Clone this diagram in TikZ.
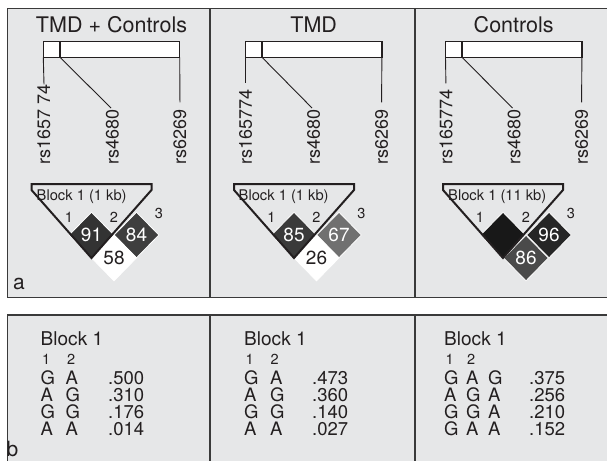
\documentclass[tikz,border=0pt]{standalone}
\usepackage{fontspec}
\setmainfont{TeX Gyre Heros}
\usetikzlibrary{shapes.geometric,calc}
\definecolor{bgc}{HTML}{E6E7E8}
\definecolor{ink}{HTML}{231F20}
\definecolor{bd}{HTML}{3A3A3A}
\definecolor{ldA}{HTML}{333333}
\definecolor{ldB}{HTML}{3E3E3E}
\definecolor{ldC}{HTML}{3A3A3A}
\definecolor{ldD}{HTML}{707070}
\definecolor{ldE}{HTML}{181818}
\definecolor{ldF}{HTML}{262626}
\definecolor{ldG}{HTML}{4A4A4A}
\begin{document}
\begin{tikzpicture}[x=1pt,y=-1pt,
  fs/.style={font=\fontsize{#1}{#1}\selectfont},
  ttl/.style={fs=21.5, text=ink, inner sep=0pt},
  snp/.style={fs=18, rotate=90, anchor=west, inner sep=0pt, text=ink},
  snpline/.style={draw=ink, line width=0.9pt},
  genebar/.style={draw=ink, line width=1.4pt, fill=white},
  ld/.style={diamond, fill=#1, draw=white, line width=0.8pt, minimum width=45pt, minimum height=46pt, inner sep=0pt, text=white, fs=19},
  blk/.style={draw=ink, line width=2pt, line join=miter},
  blklab/.style={fs=14.7, anchor=base west, inner sep=0pt, text=ink},
  mk/.style={fs=14.5, inner sep=0pt, text=ink},
  pl/.style={fs=21, inner sep=0pt, text=ink},
  hb/.style={fs=19, anchor=base west, inner sep=0pt, text=ink},
  hn/.style={fs=14.5, anchor=base west, inner sep=0pt, text=ink},
  hr/.style={fs=18.5, anchor=base west, inner sep=0pt, text=ink},
  frame/.style={draw=bd, line width=1.2pt}
]
\useasboundingbox (0,0) rectangle (607,460);
% panels
\fill[bgc] (7.3,8.3) rectangle (612,297.5);
\draw[frame] (612,8.3) -- (7.3,8.3) -- (7.3,297.5) -- (612,297.5);
\draw[frame] (210,8.3) -- (210,297.5);
\draw[frame] (415,8.3) -- (415,297.5);
\fill[bgc] (7.3,315) rectangle (612,465);
\draw[frame] (7.3,465) -- (7.3,315) -- (612,315);
\draw[frame] (210,315) -- (210,465);
\draw[frame] (415,315) -- (415,465);

% ---------- panel 1 ----------
\node[ttl] (t1) at (111.5,24.5) {TMD + Controls};
\draw[genebar] (43.3,41.7) rectangle (179.7,57.3);
\draw[draw=ink, line width=1.4pt] (60,41.7) -- (60,57.3);
\coordinate (b11) at (43.3,57.3);
\coordinate (b12) at (60,57.3);
\coordinate (b13) at (179.7,57.3);
\node[snp] (s11) at (44,165) {rs1657 74};
\node[snp] (s12) at (112.5,165) {rs4680};
\node[snp] (s13) at (180,165) {rs6269};
\draw[snpline] (b11) -- (s11.east);
\draw[snpline, shorten >=2pt] (b12) -- (s12.east);
\draw[snpline, shorten >=7pt] (b13) -- (s13.east);
\node[ld=ldA] (d112) at (91.5,235) {91};
\node[ld=ldB] (d123) at (136.5,235) {84};
\node[ld=white, text=ink] (d113) at (114,258) {58};
\draw[blk] (31.5,190) -- (31.5,184) -- (151.5,184) -- (151.5,190) -- (91.5,258) -- cycle;
\node[blklab] (k1) at (36.5,200) {Block 1 (1 kb)};
\node[mk] (m11) at (69,217) {1};
\node[mk] (m12) at (114,217) {2};
\node[mk] (m13) at (159,213.5) {3};
\node[pl] (la) at (19,284) {a};

% ---------- panel 2 ----------
\node[ttl] (t2) at (313.7,24.5) {TMD};
\draw[genebar] (245.5,41.7) rectangle (381.9,57.3);
\draw[draw=ink, line width=1.4pt] (262,41.7) -- (262,57.3);
\coordinate (b21) at (245.5,57.3);
\coordinate (b22) at (262,57.3);
\coordinate (b23) at (381.9,57.3);
\node[snp] (s21) at (245.5,165) {rs165774};
\node[snp] (s22) at (313.5,165) {rs4680};
\node[snp] (s23) at (381.5,165) {rs6269};
\draw[snpline, shorten >=6pt] (b21) -- (s21.east);
\draw[snpline, shorten >=2pt] (b22) -- (s22.east);
\draw[snpline, shorten >=7pt] (b23) -- (s23.east);
\node[ld=ldC] (d212) at (294,235) {85};
\node[ld=ldD] (d223) at (339,235) {67};
\node[ld=white, text=ink] (d213) at (316.5,258) {26};
\draw[blk] (234,190) -- (234,184) -- (354,184) -- (354,190) -- (294,258) -- cycle;
\node[blklab] (k2) at (238.5,200) {Block 1 (1 kb)};
\node[mk] (m21) at (271.5,217) {1};
\node[mk] (m22) at (316.5,217) {2};
\node[mk] (m23) at (361.5,213.5) {3};

% ---------- panel 3 ----------
\node[ttl] (t3) at (513.7,24.5) {Controls};
\draw[genebar] (445.5,41.7) rectangle (581.9,57.3);
\draw[draw=ink, line width=1.4pt] (462,41.7) -- (462,57.3);
\coordinate (b31) at (445.5,57.3);
\coordinate (b32) at (462,57.3);
\coordinate (b33) at (581.9,57.3);
\node[snp] (s31) at (446,165) {rs165774};
\node[snp] (s32) at (514,165) {rs4680};
\node[snp] (s33) at (581.5,165) {rs6269};
\draw[snpline, shorten >=6pt] (b31) -- (s31.east);
\draw[snpline, shorten >=2pt] (b32) -- (s32.east);
\draw[snpline, shorten >=7pt] (b33) -- (s33.east);
\node[ld=ldE] (d312) at (503,235) {};
\node[ld=ldF] (d323) at (549,235) {96};
\node[ld=ldG] (d313) at (526,258) {86};
\draw[blk] (443,190) -- (443,184) -- (563,184) -- (563,190) -- (503,258) -- cycle;
\node[blklab] (k3) at (448,200) {Block 1 (11 kb)};
\node[mk] (m31) at (480,217) {1};
\node[mk] (m32) at (526,217) {2};
\node[mk] (m33) at (571,213.5) {3};

% ---------- bottom panels ----------
\node[hb] (h1) at (40.5,345) {Block 1};
\node[hn] (n11) at (42,364) {1};
\node[hn] (n12) at (67,364) {2};
\foreach \p/\q/\v [count=\i] in {G/A/.500, A/G/.310, G/G/.176, A/A/.014}{
  \node[hr] (r1\i a) at (40.5,{367+17*\i}) {\p};
  \node[hr] (r1\i b) at (65.5,{367+17*\i}) {\q};
  \node[hr] (r1\i v) at (108,{367+17*\i}) {\v};
}
\node[hb] (h2) at (244,345) {Block 1};
\node[hn] (n21) at (245.5,364) {1};
\node[hn] (n22) at (270.5,364) {2};
\foreach \p/\q/\v [count=\i] in {G/A/.473, A/G/.360, G/G/.140, A/A/.027}{
  \node[hr] (r2\i a) at (244,{367+17*\i}) {\p};
  \node[hr] (r2\i b) at (270,{367+17*\i}) {\q};
  \node[hr] (r2\i v) at (312,{367+17*\i}) {\v};
}
\node[hb] (h3) at (444,345) {Block 1};
\node[hn] (n31) at (445.5,364) {1};
\node[hn] (n32) at (467,364) {2};
\foreach \p/\q/\r/\v [count=\i] in {G/A/G/.375, A/G/A/.256, G/G/A/.210, G/A/A/.152}{
  \node[hr] (r3\i a) at (444,{367+17*\i}) {\p};
  \node[hr] (r3\i b) at (466,{367+17*\i}) {\q};
  \node[hr] (r3\i c) at (488,{367+17*\i}) {\r};
  \node[hr] (r3\i v) at (529,{367+17*\i}) {\v};
}
\node[pl] (lb) at (12.5,449) {b};
\end{tikzpicture}
\end{document}
